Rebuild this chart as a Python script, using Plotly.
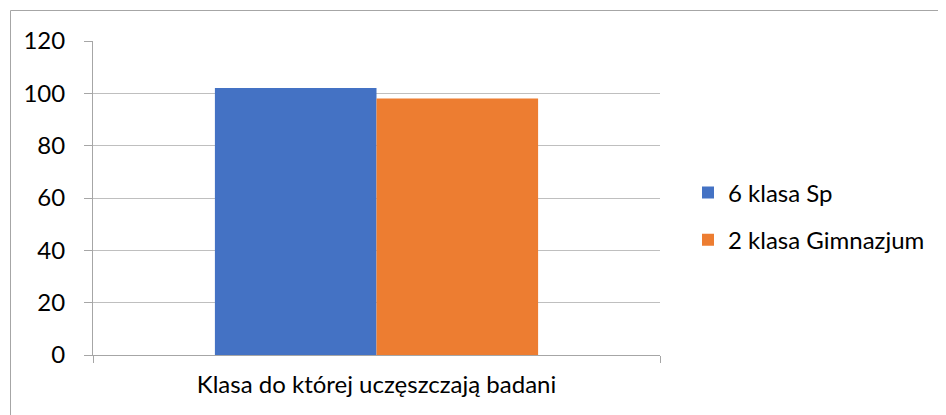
import plotly.graph_objects as go

categories = ["Klasa do której uczęszczają badani"]
series_names = ["6 klasa Sp", "2 klasa Gimnazjum"]
series_values = [[102], [98]]
colors = ["#4472C4", "#ED7D31"]
y_ticks = [0, 20, 40, 60, 80, 100, 120]

W, H = 946, 415
OFF = 8  # page offset of the figure
L, R, T, B = 93 - OFF, 660 - OFF, 41 - OFF, 355 - OFF

fig = go.Figure()
for i, (name, vals) in enumerate(zip(series_names, series_values)):
    fig.add_trace(go.Bar(x=categories, y=vals, name=name, marker_color=colors[i],
                         marker_line_width=0, legendgroup=name))

font = dict(family="Lato, Open Sans, sans-serif", size=24, color="#000000")
pw, ph = R - L, B - T
fig.update_layout(
    width=W, height=H,
    margin=dict(l=L, r=W - R, t=T, b=H - B, pad=0),
    paper_bgcolor="white", plot_bgcolor="white",
    barmode="group", bargap=0.43, bargroupgap=0,
    font=font,
    showlegend=True,
    legend=dict(x=(688 - OFF - L) / pw, y=(B - (216.5 - OFF)) / ph,
                xanchor="left", yanchor="middle",
                font=font, bgcolor="rgba(0,0,0,0)",
                tracegroupgap=13, traceorder="grouped", itemwidth=30),
    xaxis=dict(showline=True, linecolor="#a6a6a6", linewidth=1,
               ticks="outside", tickson="boundaries", ticklen=7, tickcolor="#a6a6a6",
               showgrid=False, tickfont=font, ticklabelstandoff=8),
    yaxis=dict(range=[0, 120], tickvals=y_ticks, showline=True, linecolor="#a6a6a6",
               linewidth=1, ticks="outside", ticklen=8, tickcolor="#a6a6a6",
               showgrid=True, gridcolor="#bfbfbf", gridwidth=1, zeroline=False,
               tickfont=font, ticklabelstandoff=14),
)

fig.add_shape(type="rect", xref="paper", yref="paper",
              x0=(10.5 - OFF - L) / pw, x1=(945.5 - L) / pw,
              y0=(B - 430) / ph, y1=(B - (10.5 - OFF)) / ph,
              line=dict(color="#a6a6a6", width=1), fillcolor="rgba(0,0,0,0)", layer="below")

fig.write_html("out.html")
